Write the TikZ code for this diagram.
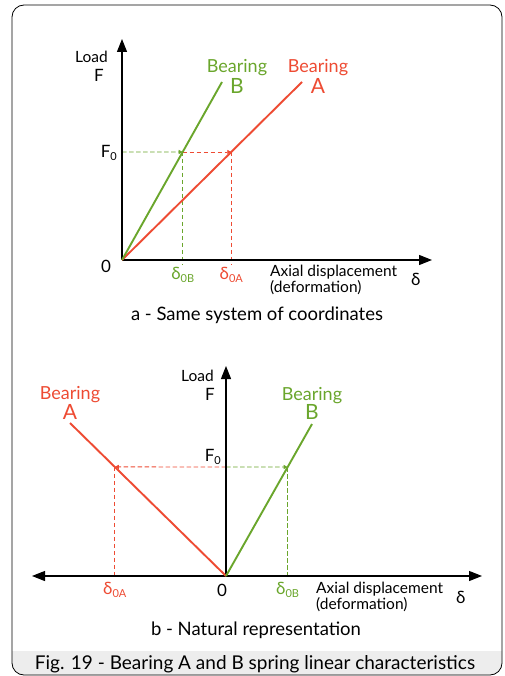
\documentclass[tikz,border=0pt]{standalone}
\usepackage{fontspec}
\setmainfont{Lato}
\usetikzlibrary{arrows.meta,positioning,calc}
\definecolor{bred}{HTML}{EE4B33}
\definecolor{bgreen}{HTML}{6AA62C}
\definecolor{capgray}{HTML}{EDEDED}
\tikzstyle{axis} = [line width=1.1pt, -{Triangle[length=13pt,width=10pt]}]
\tikzstyle{curve} = [line width=1.9pt]
\tikzstyle{guide} = [line width=0.9pt, dash pattern=on 4.5pt off 2.5pt]
\tikzstyle{hit} = [-{Triangle[length=4pt,width=4pt]}]
\tikzstyle{lbl} = [inner sep=0pt, font=\fontsize{17}{17}\selectfont]
\tikzstyle{small} = [inner sep=0pt, font=\fontsize{15.5}{16.5}\selectfont]
\tikzstyle{brg} = [inner sep=0pt, font=\fontsize{18}{18}\selectfont]
\tikzstyle{letter} = [inner sep=0pt, font=\fontsize{21}{21}\selectfont]
\tikzstyle{sub} = [inner sep=0pt, font=\fontsize{18.5}{18.5}\selectfont]
\newcommand{\dsub}[1]{δ\raisebox{-3pt}{\fontsize{11}{11}\selectfont #1}}
\newcommand{\fnull}{F\raisebox{-3pt}{\fontsize{11}{11}\selectfont 0}}

\begin{document}
\begin{tikzpicture}[x=1pt,y=-1pt]
	\useasboundingbox (0,0) rectangle (504,676);
	\fill[white] (0,0) rectangle (504,676);
	% frame and caption band
	\fill[capgray] (12,651) -- (502,651) {[rounded corners=12pt] -- (502,675) -- (12,675)} -- cycle;
	\draw[line width=0.8pt, rounded corners=12pt] (12,5) rectangle (502,675);
	\node (cap) [inner sep=0pt, font=\fontsize{19}{19}\selectfont] at (255,664) {Fig. 19 - Bearing A and B spring linear characteristics};

	% a - same system of coordinates
	\coordinate (oa) at (122,260);
	\coordinate (ya) at (122,39);
	\coordinate (xa) at (432,260);
	\coordinate (endB) at (222,82);
	\coordinate (endA) at (302,82);
	\coordinate (fa) at (122,152);
	\coordinate (pB) at ($(oa)!0.607!(endB)$);
	\coordinate (pA) at ($(oa)!0.607!(endA)$);
	\coordinate (tB) at (pB |- 0,265);
	\coordinate (tA) at (pA |- 0,265);
	\draw[guide, bgreen, hit] (fa) -- (pB);
	\draw[guide, bred, hit] (pB) -- (pA);
	\draw[guide, bgreen] (pB) -- (tB);
	\draw[guide, bred] (pA) -- (tA);
	\draw[axis] (oa) -- (ya);
	\draw[axis] (oa) -- (xa);
	\draw[curve, bred] (oa) -- (endA);
	\draw[curve, bgreen] (oa) -- (endB);
	\node (loada) [small, anchor=east] at (108,57) {Load};
	\node (Fa) [lbl, anchor=east] at (104,75) {F};
	\node (F0a) [lbl, anchor=east] at (117,153) {\fnull};
	\node (za) [lbl] at (106,266) {0};
	\node (dBa) [lbl, bgreen, below=2pt of tB] {\dsub{0B}};
	\node (dAa) [lbl, bred, below=2pt of tA] {\dsub{0A}};
	\node (axa) [small, anchor=west, align=left] at (270,280) {Axial displacement\\(deformation)};
	\node (da) [lbl, anchor=west] at (411,279) {δ};
	\node (capa) [sub] at (257,315) {a - Same system of coordinates};
	\node (brgB) [brg, bgreen] at (237,68) {Bearing};
	\node (letB) [letter, bgreen] at (237,86) {B};
	\node (brgA) [brg, bred] at (318,68) {Bearing};
	\node (letA) [letter, bred] at (318,86) {A};

	% b - natural representation
	\coordinate (ob) at (226,576);
	\coordinate (yb) at (226,366);
	\coordinate (xl) at (32,576);
	\coordinate (xr) at (482,576);
	\coordinate (endAb) at (70,423);
	\coordinate (endBb) at (312,424);
	\coordinate (fb) at (226,467);
	\coordinate (qA) at ($(ob)!0.713!(endAb)$);
	\coordinate (qB) at ($(ob)!0.717!(endBb)$);
	\coordinate (sA) at (qA |- ob);
	\coordinate (sB) at (qB |- ob);
	\draw[guide, bred, hit] (fb) -- (qA);
	\draw[guide, bgreen, hit] (fb) -- (qB);
	\draw[guide, bred] (qA) -- (sA);
	\draw[guide, bgreen] (qB) -- (sB);
	\draw[axis] (ob) -- (yb);
	\draw[axis, {Triangle[length=13pt,width=10pt]}-{Triangle[length=13pt,width=10pt]}] (xl) -- (xr);
	\draw[curve, bred] (ob) -- (endAb);
	\draw[curve, bgreen] (ob) -- (endBb);
	\node (loadb) [small, anchor=east] at (214,376) {Load};
	\node (Fb) [lbl, anchor=east] at (215,394) {F};
	\node (F0b) [lbl, anchor=east] at (221,457) {\fnull};
	\node (zb) [lbl] at (222,590) {0};
	\node (dAb) [lbl, bred, below=6pt of sA] {\dsub{0A}};
	\node (dBb) [lbl, bgreen, below=6pt of sB] {\dsub{0B}};
	\node (axb) [small, anchor=west, align=left] at (316,597) {Axial displacement\\(deformation)};
	\node (db) [lbl, anchor=west] at (456,597) {δ};
	\node (capb) [sub] at (256,630) {b - Natural representation};
	\node (brgAb) [brg, bred] at (70,395) {Bearing};
	\node (letAb) [letter, bred] at (70,412) {A};
	\node (brgBb) [brg, bgreen] at (312,396) {Bearing};
	\node (letBb) [letter, bgreen] at (312,412) {B};
\end{tikzpicture}
\end{document}
